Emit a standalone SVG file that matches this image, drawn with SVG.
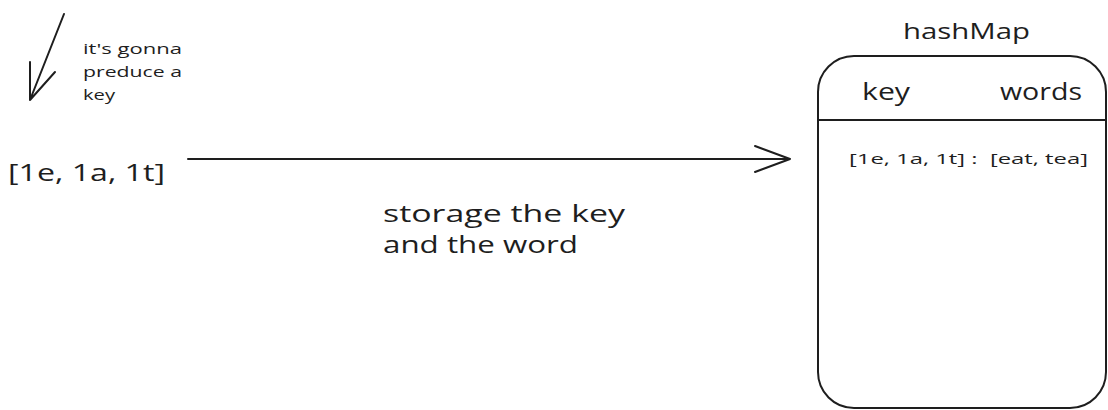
<svg xmlns="http://www.w3.org/2000/svg" width="1108" height="410" viewBox="0 0 1108 410">
<style>
.t{font-family:"Open Sans","Liberation Sans",sans-serif;fill:#1e1e1e;white-space:pre}
.ln{fill:none;stroke:#1e1e1e;stroke-width:2;stroke-linecap:round;stroke-linejoin:round}
</style>
<rect width="1108" height="410" fill="#ffffff"/>
<g id="note">
<text class="t" font-size="14" x="83" y="54" textLength="99" lengthAdjust="spacingAndGlyphs">it's gonna</text>
<text class="t" font-size="14" x="83" y="77" textLength="99" lengthAdjust="spacingAndGlyphs">preduce a</text>
<text class="t" font-size="14" x="83" y="100" textLength="32" lengthAdjust="spacingAndGlyphs">key</text>
</g>
<g id="keyNode">
<text class="t" font-size="24" x="8" y="181" textLength="157" lengthAdjust="spacingAndGlyphs">[1e, 1a, 1t]</text>
</g>
<g id="label">
<text class="t" font-size="24" x="383" y="222" textLength="242" lengthAdjust="spacingAndGlyphs">storage the key</text>
<text class="t" font-size="24" x="383" y="253" textLength="195" lengthAdjust="spacingAndGlyphs">and the word</text>
</g>
<g id="hashMap">
<text class="t" font-size="22" x="903" y="39" textLength="127" lengthAdjust="spacingAndGlyphs">hashMap</text>
<rect class="ln" x="818" y="56" width="288" height="352" rx="36" ry="36"/>
<line class="ln" x1="818" y1="120" x2="1106" y2="120"/>
<text class="t" font-size="24" x="862" y="100" textLength="48" lengthAdjust="spacingAndGlyphs">key</text>
<text class="t" font-size="24" x="1000" y="100" textLength="82" lengthAdjust="spacingAndGlyphs">words</text>
<text class="t" font-size="14" x="849" y="164" xml:space="preserve" textLength="239" lengthAdjust="spacingAndGlyphs">[1e, 1a, 1t] :  [eat, tea]</text>
</g>
<g id="connectors">
<path class="ln" d="M64 14 L30 100 M30 100 L30 62 M30 100 L55 72"/>
<path class="ln" d="M188 159 L790 159 M790 159 L755 146 M790 159 L755 172"/>
</g>
</svg>
